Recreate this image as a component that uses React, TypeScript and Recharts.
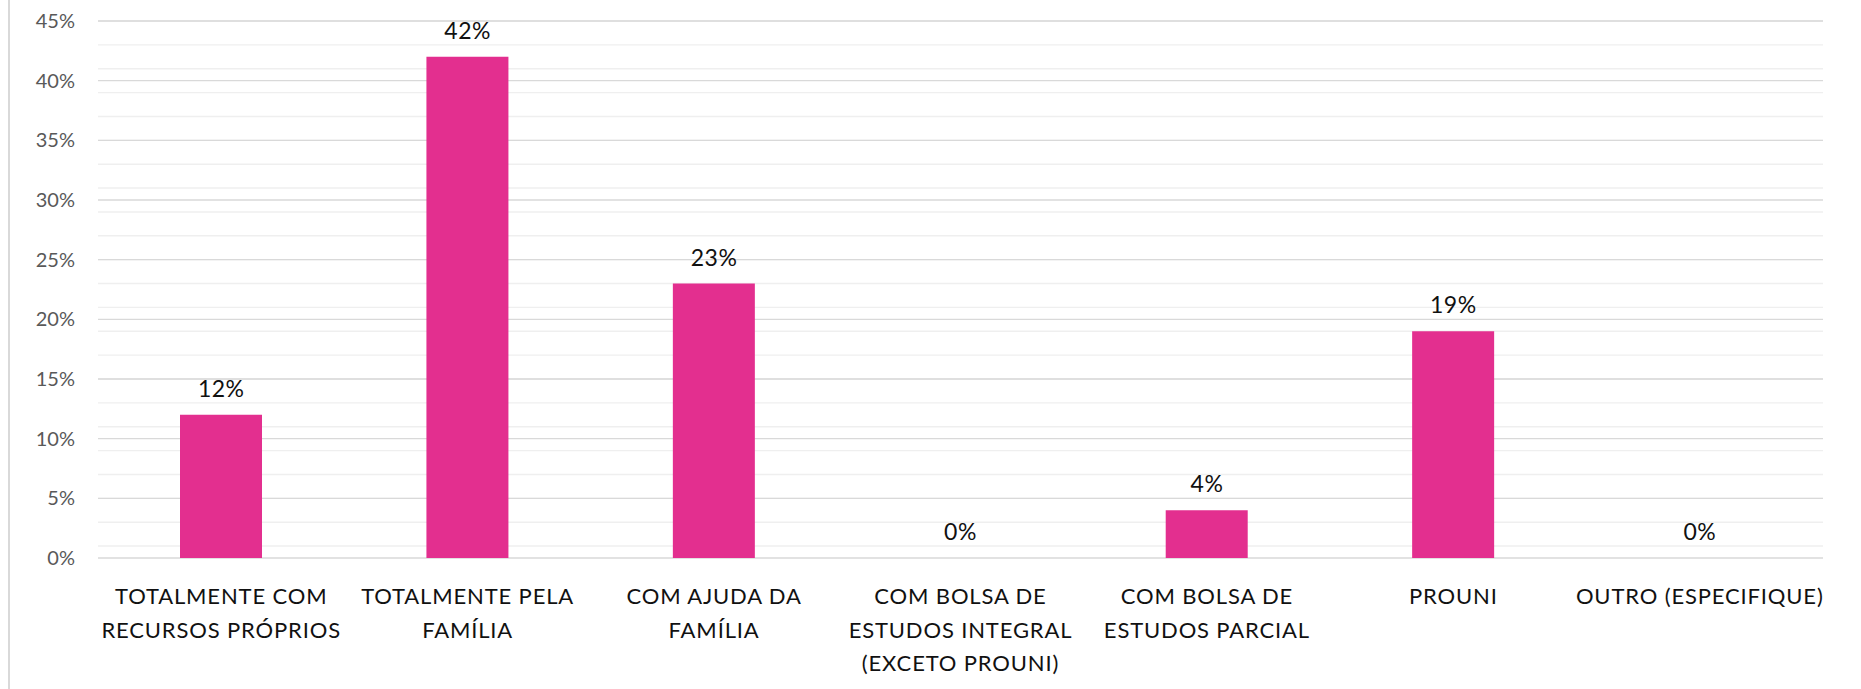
import {
  Bar,
  CartesianGrid,
  ComposedChart,
  LabelList,
  Line,
  XAxis,
  YAxis,
} from 'recharts';

const categories = [
  'TOTALMENTE COM RECURSOS PRÓPRIOS',
  'TOTALMENTE PELA FAMÍLIA',
  'COM AJUDA DA FAMÍLIA',
  'COM BOLSA DE ESTUDOS INTEGRAL (EXCETO PROUNI)',
  'COM BOLSA DE ESTUDOS PARCIAL',
  'PROUNI',
  'OUTRO (ESPECIFIQUE)',
];

// how each category label is wrapped in the picture
const categoryLines = [
  ['TOTALMENTE COM', 'RECURSOS PRÓPRIOS'],
  ['TOTALMENTE PELA', 'FAMÍLIA'],
  ['COM AJUDA DA', 'FAMÍLIA'],
  ['COM BOLSA DE', 'ESTUDOS INTEGRAL', '(EXCETO PROUNI)'],
  ['COM BOLSA DE', 'ESTUDOS PARCIAL'],
  ['PROUNI'],
  ['OUTRO (ESPECIFIQUE)'],
];

const shares = [12, 42, 23, 0, 4, 19, 0];

const majorTicks = [0, 5, 10, 15, 20, 25, 30, 35, 40, 45];
const minorTicks = [
  0, 1, 2, 3, 4, 5, 6, 7, 8, 9, 10, 11, 12, 13, 14, 15, 16, 17, 18, 19, 20, 21, 22,
  23, 24, 25, 26, 27, 28, 29, 30, 31, 32, 33, 34, 35, 36, 37, 38, 39, 40, 41, 42, 43,
  44, 45,
];

const data = categories.map((name, i) => ({ name, value: shares[i] }));

const FONT = 'Lato, "Open Sans", sans-serif';
const PINK = '#E32F8F';

function CategoryTick(props: any) {
  const { x, y, payload } = props;
  const lines = categoryLines[payload.index] ?? [payload.value];
  return (
    <text
      x={x}
      y={y + 46}
      textAnchor="middle"
      fill="#111"
      fontFamily={FONT}
      fontSize={22}
      letterSpacing={0.85}
    >
      {lines.map((line, i) => (
        <tspan key={i} x={x} dy={i === 0 ? 0 : 33.5}>
          {line}
        </tspan>
      ))}
    </text>
  );
}

// labels hang off an invisible line so the 0% categories get one too
function ValueLabel(props: any) {
  const { x, y, value } = props;
  return (
    <text
      x={x}
      y={y - 18}
      textAnchor="middle"
      fill="#111"
      fontFamily={FONT}
      fontSize={23}
      letterSpacing={0.5}
    >
      {value}%
    </text>
  );
}

export default function App() {
  return (
    <div style={{ position: 'relative', width: 1861, height: 689, background: '#fff' }}>
      <style>{'body{margin:0}'}</style>
      <div
        style={{
          position: 'absolute',
          left: 8,
          top: 0,
          width: 2,
          height: 689,
          background: '#d9d9d9',
        }}
      />
      <ComposedChart
        width={1861}
        height={689}
        data={data}
        margin={{ top: 21, right: 38, bottom: 0, left: 0 }}
      >
        <YAxis
          width={98}
          domain={[0, 45]}
          ticks={majorTicks}
          axisLine={false}
          tickLine={false}
          tickSize={0}
          tickMargin={23}
          tickFormatter={(v) => `${v}%`}
          tick={{ fill: '#595959', fontSize: 20, fontFamily: FONT }}
        />
        <CartesianGrid
          vertical={false}
          horizontalValues={minorTicks}
          stroke="#efefef"
          strokeWidth={1.4}
        />
        <CartesianGrid vertical={false} stroke="#d9d9d9" strokeWidth={1.4} />
        <XAxis
          dataKey="name"
          height={131}
          axisLine={false}
          tickLine={false}
          tickSize={0}
          tickMargin={0}
          interval={0}
          tick={<CategoryTick />}
        />
        <Bar dataKey="value" fill={PINK} barSize={82} isAnimationActive={false} />
        <Line
          dataKey="value"
          stroke="none"
          dot={false}
          activeDot={false}
          legendType="none"
          isAnimationActive={false}
        >
          <LabelList dataKey="value" content={<ValueLabel />} />
        </Line>
      </ComposedChart>
    </div>
  );
}
